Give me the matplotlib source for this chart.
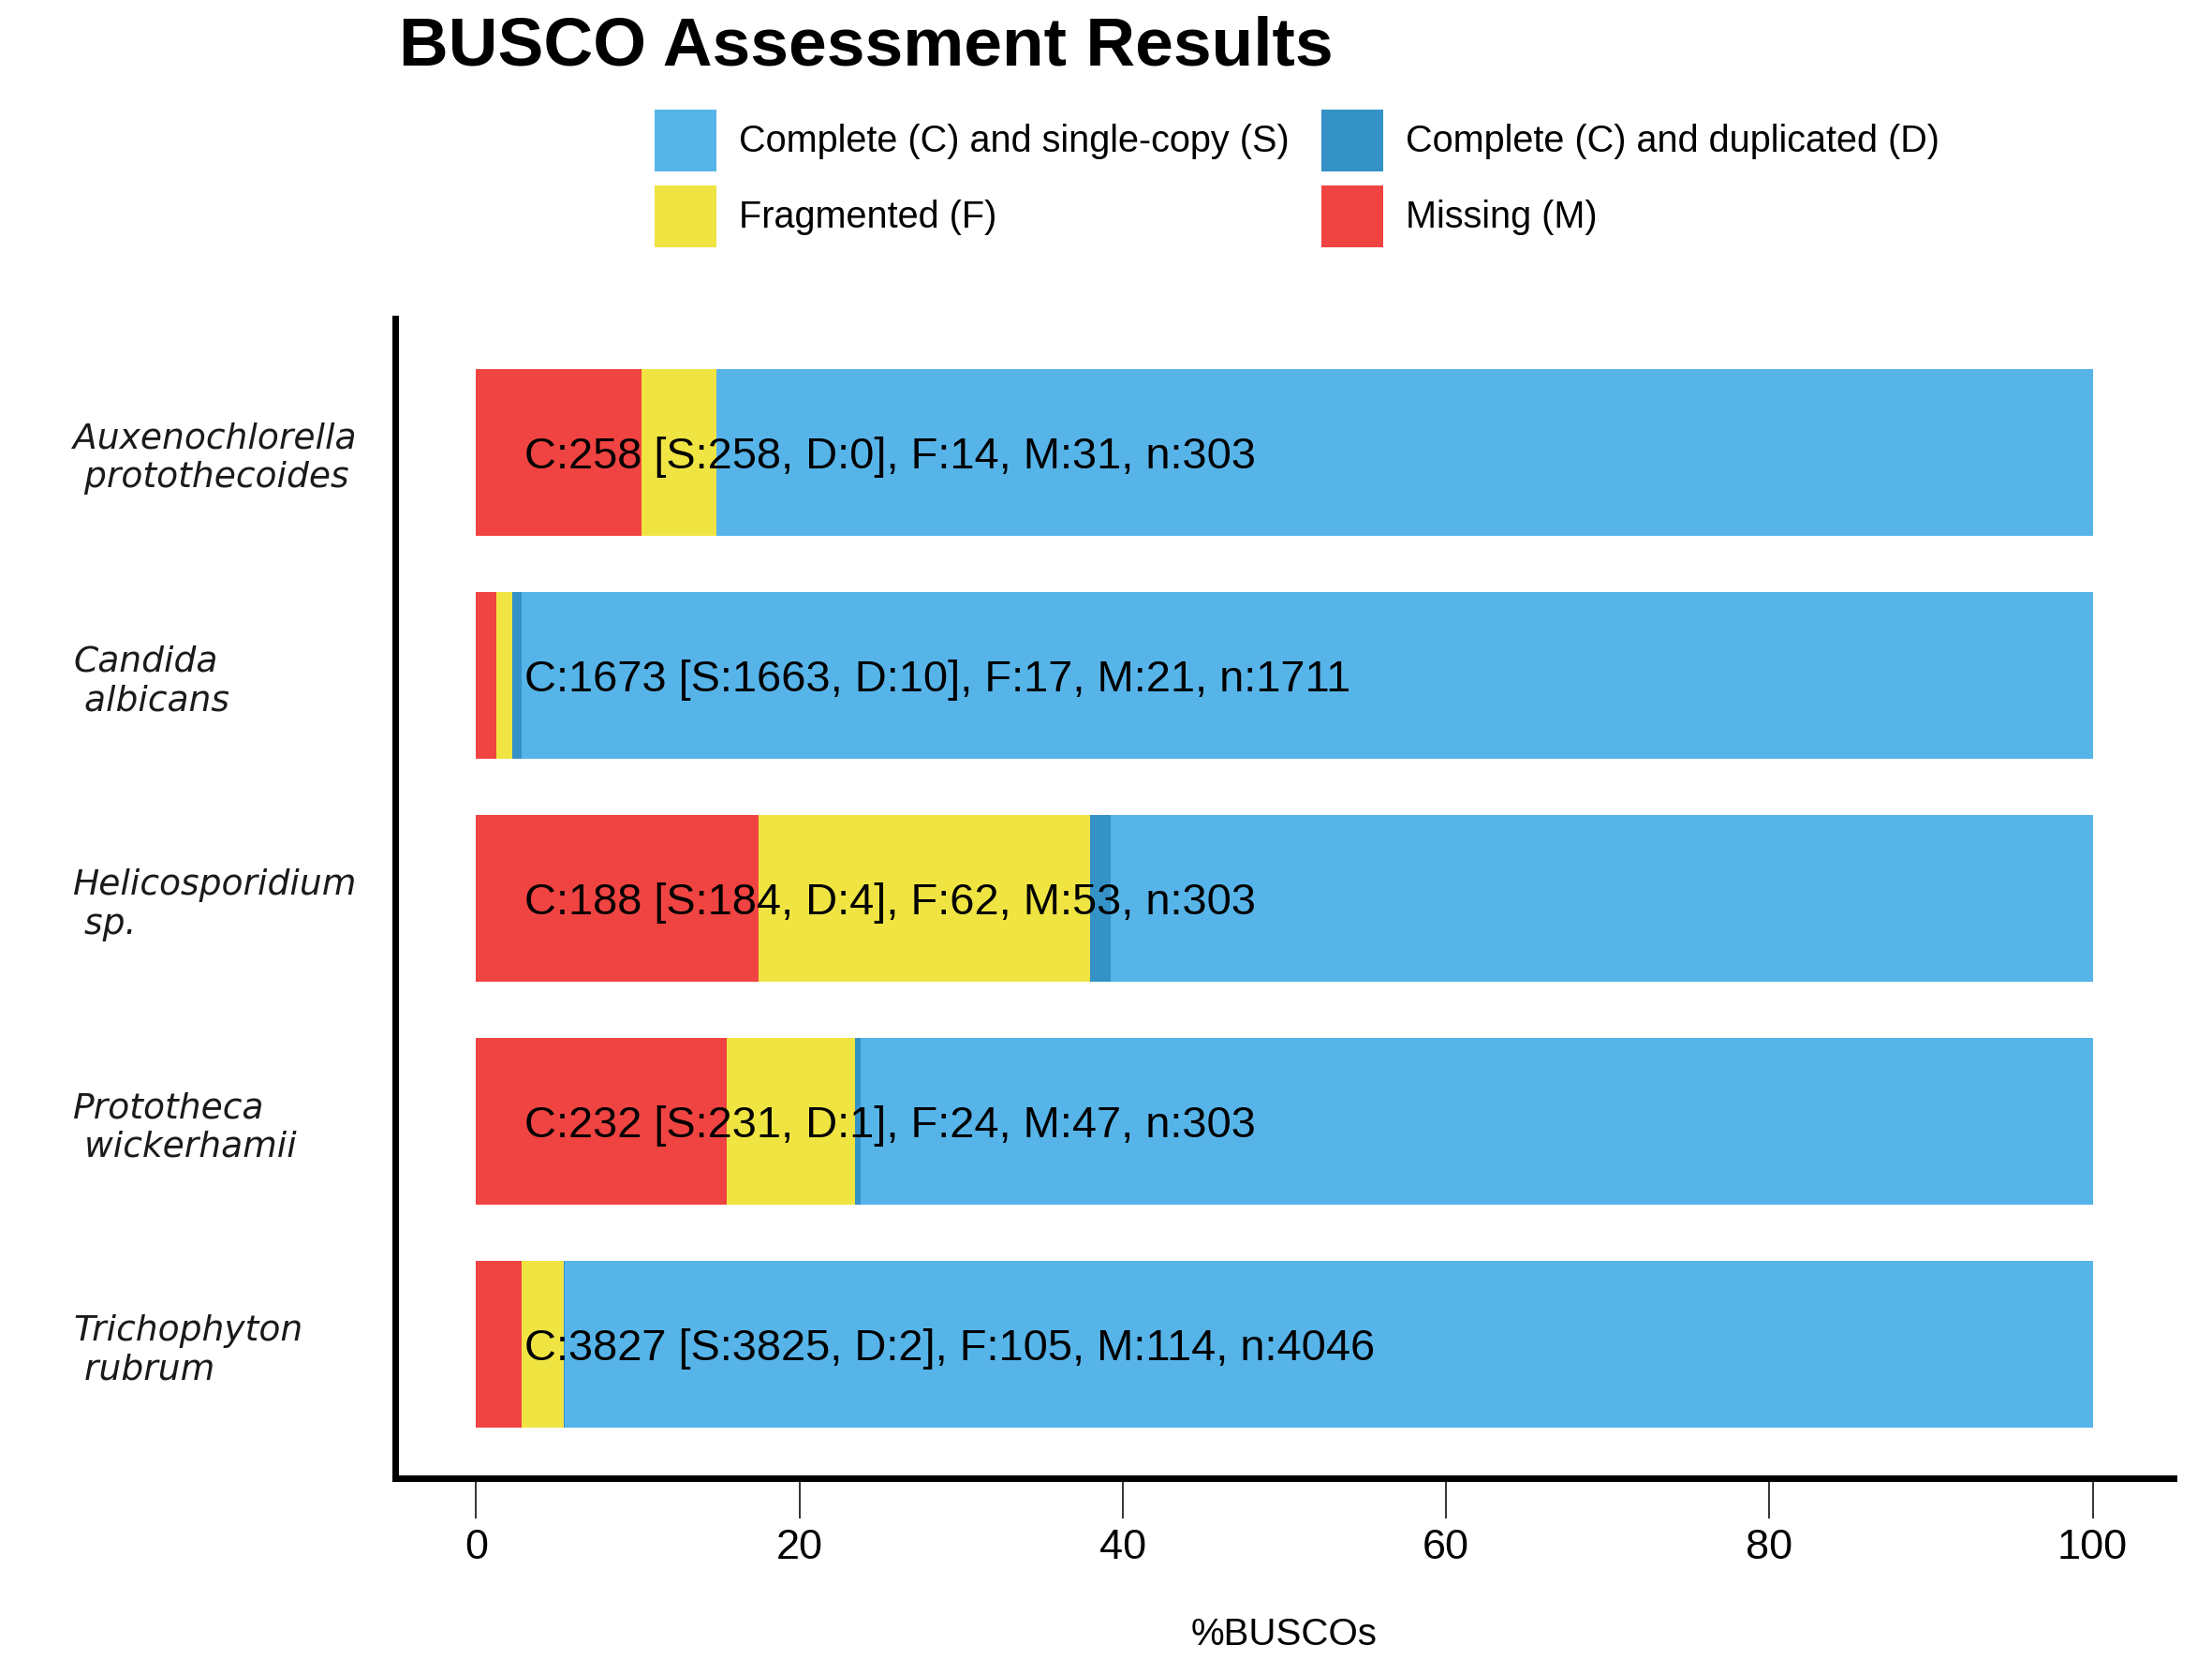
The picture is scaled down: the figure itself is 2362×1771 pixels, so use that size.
import matplotlib
matplotlib.use("Agg")
import matplotlib.pyplot as plt
from matplotlib.patches import Patch
import numpy as np

species = ["Auxenochlorella\n protothecoides", "Candida\n albicans",
           "Helicosporidium\n sp.", "Prototheca\n wickerhamii",
           "Trichophyton\n rubrum"]
single = [258, 1663, 184, 231, 3825]
duplicated = [0, 10, 4, 1, 2]
fragmented = [14, 17, 62, 24, 105]
missing = [31, 21, 53, 47, 114]
total = [303, 1711, 303, 303, 4046]
xticks = [0, 20, 40, 60, 80, 100]

labels = ["Complete (C) and single-copy (S)", "Complete (C) and duplicated (D)",
          "Fragmented (F)", "Missing (M)"]
colors = ["#56B4E9", "#3492C7", "#F0E442", "#F04442"]

W, H, DPI = 2362, 1771, 100
fig = plt.figure(figsize=(W / DPI, H / DPI), dpi=DPI)
ax = fig.add_axes([422 / W, 1 - 1578 / H, (2321 - 422) / W, (1578 - 340) / H])

n = np.array(total, float)
pS = np.array(single) / n * 100
pD = np.array(duplicated) / n * 100
pF = np.array(fragmented) / n * 100
pM = np.array(missing) / n * 100
pos = np.arange(1, len(species) + 1)

left = np.zeros(len(species))
for vals, col in [(pM, colors[3]), (pF, colors[2]), (pD, colors[1]), (pS, colors[0])]:
    ax.barh(pos, vals, left=left, height=0.75, color=col, edgecolor="none")
    left = left + vals

for i in range(len(species)):
    C = single[i] + duplicated[i]
    txt = f"C:{C} [S:{single[i]}, D:{duplicated[i]}], F:{fragmented[i]}, M:{missing[i]}, n:{total[i]}"
    ax.text(3, pos[i], txt, ha="left", va="center_baseline", fontsize=33.8,
            family="Liberation Sans", color="black")

ax.set_xlim(-5, 105)
ax.set_ylim(5.6, 0.4)
ax.set_xticks(xticks)
ax.set_xticklabels([str(t) for t in xticks], family="Liberation Sans", fontsize=32.5, color="black")
ax.tick_params(axis="x", length=31, width=1.4, color="#333333", pad=8)
ax.set_yticks(pos)
ax.set_yticklabels(species, ha="left", family="DejaVu Sans", fontstyle="italic",
                   fontsize=27.1, color="#1a1a1a")
ax.tick_params(axis="y", length=0, pad=247.7)

for s in ["top", "right"]:
    ax.spines[s].set_visible(False)
for s in ["left", "bottom"]:
    ax.spines[s].set_linewidth(5)
    ax.spines[s].set_color("black")

ax.set_xlabel("%BUSCOs", family="Liberation Sans", fontsize=29, labelpad=38)

fig.text(426 / W, 1 - 70 / H, "BUSCO Assessment Results", family="Liberation Sans",
         fontweight="bold", fontsize=52.7, va="baseline", ha="left")

handles = [Patch(facecolor=c, edgecolor="none") for c in colors]
order = [0, 2, 1, 3]
leg = fig.legend([handles[i] for i in order], [labels[i] for i in order],
                 ncol=2, loc="upper left", bbox_to_anchor=(699 / W, 1 - 117 / H),
                 frameon=False, borderpad=0, borderaxespad=0,
                 prop={"family": "Liberation Sans", "size": 28.5},
                 handlelength=1.667, handleheight=2.19, handletextpad=0.6,
                 labelspacing=0.38, columnspacing=0.88)

fig.savefig("out.png", dpi=DPI)
